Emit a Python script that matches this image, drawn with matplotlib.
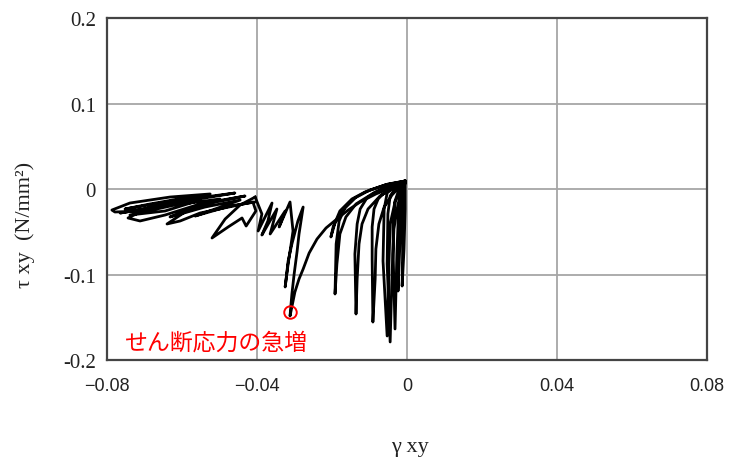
# Import modules
from matplotlib import pyplot as plt

# Shear strain / shear stress loops

# Right cluster: narrow loops fanning out from the origin peak
gamma_right = [-0.0005, -0.0011, -0.0011, -0.0013, -0.0008, -0.0005, -0.0005,
               -0.0016, -0.0021, -0.0024, -0.0019, -0.0013, -0.0005,
               -0.0021, -0.0032, -0.0037, -0.0037, -0.0032, -0.0027, -0.0024, -0.0019, -0.0005,
               -0.0029, -0.0045, -0.0051, -0.0053, -0.0045, -0.0040, -0.0035, -0.0024, -0.0005,
               -0.0032, -0.0053, -0.0061, -0.0064, -0.0053, -0.0048, -0.0045, -0.0032, -0.0005,
               -0.0032, -0.0059, -0.0077, -0.0088, -0.0093, -0.0093, -0.0091, -0.0085, -0.0083,
               -0.0075, -0.0061, -0.0040, -0.0005,
               -0.0040, -0.0077, -0.0107, -0.0125, -0.0133, -0.0139, -0.0136, -0.0133, -0.0128,
               -0.0120, -0.0104, -0.0072, -0.0005,
               -0.0051, -0.0099, -0.0139, -0.0165, -0.0181, -0.0189, -0.0192, -0.0187, -0.0179,
               -0.0163, -0.0136, -0.0085, -0.0005,
               -0.0059, -0.0112, -0.0147, -0.0179, -0.0197, -0.0203, -0.0192, -0.0173, -0.0139]
tau_right = [0.0094, -0.0117, -0.0468, -0.1135, -0.0702, -0.0234, 0.0094,
             -0.0023, -0.0292, -0.1193, -0.0643, -0.0175, 0.0094,
             0.0000, -0.0140, -0.0409, -0.0760, -0.1637, -0.0760, -0.0409, -0.0175, 0.0094,
             0.0023, -0.0082, -0.0292, -0.0877, -0.1789, -0.0994, -0.0468, -0.0175, 0.0094,
             0.0035, -0.0047, -0.0234, -0.0842, -0.1719, -0.0842, -0.0409, -0.0152, 0.0094,
             0.0035, -0.0035, -0.0117, -0.0234, -0.0444, -0.0819, -0.1556, -0.1053, -0.0702,
             -0.0409, -0.0211, -0.0070, 0.0094,
             0.0047, -0.0023, -0.0105, -0.0234, -0.0409, -0.0760, -0.1462, -0.1053, -0.0643,
             -0.0409, -0.0234, -0.0082, 0.0094,
             0.0058, -0.0012, -0.0105, -0.0211, -0.0374, -0.0643, -0.1228, -0.0877, -0.0526,
             -0.0327, -0.0175, -0.0035, 0.0094,
             0.0047, -0.0035, -0.0117, -0.0257, -0.0444, -0.0561, -0.0397, -0.0257, -0.0105]

# Middle part: the big drop (circled) and the first zigzags
gamma_mid = [-0.0005, -0.0037, -0.0083, -0.0125, -0.0157, -0.0187, -0.0216, -0.0240,
             -0.0261, -0.0277, -0.0288, -0.0299, -0.0312, -0.0307, -0.0301, -0.0293,
             -0.0288, -0.0277, -0.0291, -0.0307, -0.0317, -0.0325, -0.0317, -0.0309,
             -0.0304, -0.0312, -0.0341, -0.0325, -0.0365, -0.0347, -0.0387, -0.0371,
             -0.0360, -0.0397, -0.0387, -0.0405]
tau_mid = [0.0094, 0.0023, -0.0058, -0.0152, -0.0246, -0.0351, -0.0456, -0.0585,
           -0.0749, -0.0936, -0.1053, -0.1205, -0.1485, -0.1228, -0.0994, -0.0725,
           -0.0526, -0.0211, -0.0374, -0.0643, -0.0842, -0.1146, -0.0877, -0.0643,
           -0.0491, -0.0152, -0.0444, -0.0257, -0.0526, -0.0234, -0.0538, -0.0374,
           -0.0164, -0.0491, -0.0292, -0.0094]

# Left part: V-shaped drop and dense band of small loops
gamma_left = [-0.0405, -0.0445, -0.0485, -0.0520, -0.0477, -0.0440, -0.0429, -0.0403,
              -0.0411, -0.0552, -0.0605, -0.0640, -0.0592, -0.0512, -0.0432, -0.0552,
              -0.0645, -0.0712, -0.0744, -0.0685, -0.0579, -0.0459, -0.0605, -0.0712,
              -0.0779, -0.0787, -0.0739, -0.0632, -0.0525, -0.0659, -0.0752, -0.0685,
              -0.0579, -0.0699, -0.0765, -0.0659, -0.0552, -0.0645, -0.0739, -0.0619,
              -0.0499, -0.0579, -0.0632, -0.0539, -0.0445, -0.0512, -0.0565, -0.0472,
              -0.0405]
tau_left = [-0.0094, -0.0187, -0.0351, -0.0573, -0.0444, -0.0339, -0.0433, -0.0257,
            -0.0152, -0.0281, -0.0374, -0.0409, -0.0269, -0.0152, -0.0082, -0.0175,
            -0.0304, -0.0374, -0.0339, -0.0211, -0.0117, -0.0047, -0.0152, -0.0257,
            -0.0269, -0.0246, -0.0164, -0.0094, -0.0058, -0.0164, -0.0234, -0.0175,
            -0.0094, -0.0234, -0.0281, -0.0199, -0.0129, -0.0257, -0.0304, -0.0187,
            -0.0117, -0.0234, -0.0327, -0.0211, -0.0129, -0.0234, -0.0316, -0.0199,
            -0.0152]

# Point where the shear stress jumps
jump_gamma = -0.0312
jump_tau = -0.1439

# Axis ticks
x_ticks = [-0.08, -0.04, 0, 0.04, 0.08]
x_tick_labels = ['\u22120.08', '\u22120.04', '0', '0.04', '0.08']
y_ticks = [-0.2, -0.1, 0, 0.1, 0.2]
y_tick_labels = ['-0.2', '-0.1', '0', '0.1', '0.2']

# Figure and axes
fig = plt.figure(figsize=(7.31, 4.6), dpi=100)
ax = fig.add_axes([0.1464, 0.2152, 0.8208, 0.7435])

# Curves
for g, t in [(gamma_right, tau_right), (gamma_mid, tau_mid), (gamma_left, tau_left)]:
    ax.plot(g, t, color='black', linewidth=2.0, solid_joinstyle='round', zorder=3)

# Red circle and note
ax.plot(jump_gamma, jump_tau, marker='o', markersize=9, fillstyle='none',
        markeredgecolor='red', markeredgewidth=1.4, zorder=4)
ax.text(-0.0509, -0.179, 'せん断応力の急増', color='red', fontsize=16.5,
        family=['Noto Sans CJK JP', 'DejaVu Sans'], ha='center', va='center', zorder=4)

# Limits, ticks and grid
ax.set_xlim(-0.08, 0.08)
ax.set_ylim(-0.2, 0.2)
ax.set_xticks(x_ticks)
ax.set_xticklabels(x_tick_labels, family='Liberation Sans', fontsize=13)
ax.set_yticks(y_ticks)
ax.set_yticklabels(y_tick_labels, family='Liberation Serif', fontsize=15)
ax.tick_params(axis='both', length=0, colors='#222222')
ax.tick_params(axis='x', pad=12)
ax.tick_params(axis='y', pad=8)
ax.grid(True, color='#a6a6a6', linewidth=1.3, zorder=0)
ax.set_axisbelow(True)
for s in ax.spines.values():
    s.set_color('#444444')
    s.set_linewidth(1.6)

# Axis labels
ax.set_xlabel('\u03b3 xy', family='Liberation Serif', fontsize=16, color='#222222')
ax.xaxis.set_label_coords(0.505, -0.225)
ax.set_ylabel('\u03c4 xy  (N/mm\u00b2)', family='Liberation Serif', fontsize=16, color='#222222')
ax.yaxis.set_label_coords(-0.12, 0.398)

# Save plot
plt.savefig('out.png', dpi=100)
